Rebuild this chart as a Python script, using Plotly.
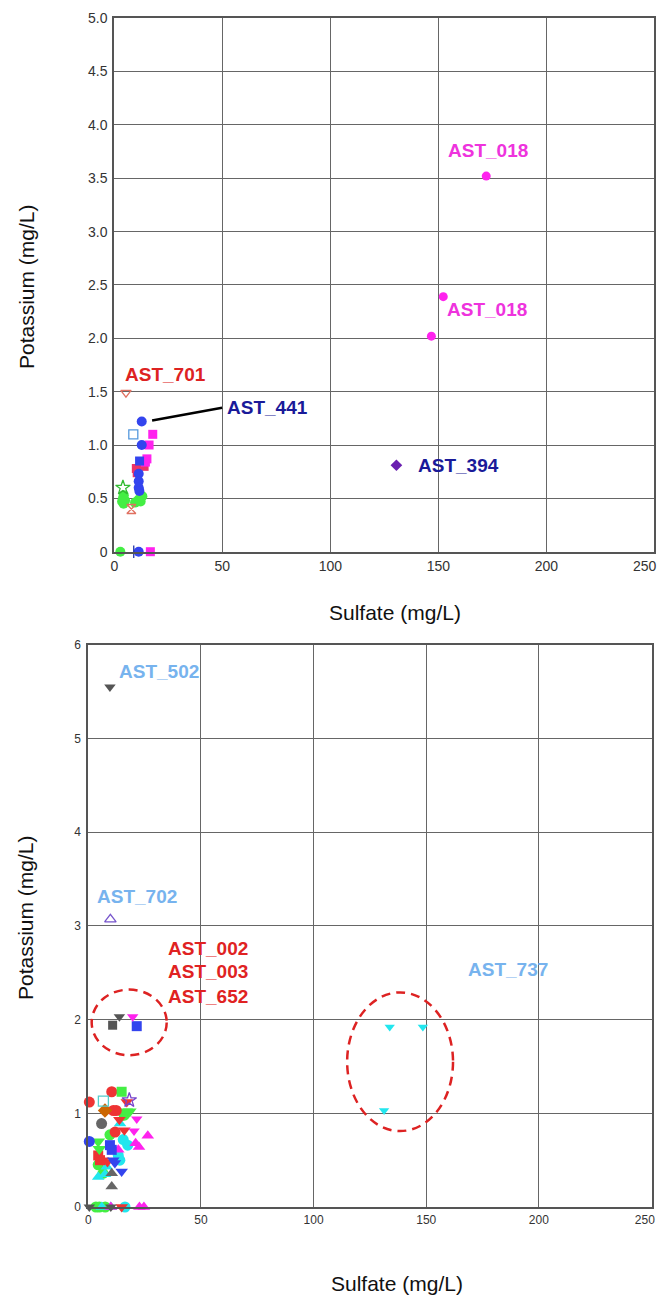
import plotly.graph_objects as go

# ---------------- data: top panel ----------------
TOP_X_TICKS = [0, 50, 100, 150, 200, 250]
TOP_X_TICKTEXT = ["0", "50", "100", "150", "200", "250"]
TOP_Y_TICKS = [0, 0.5, 1.0, 1.5, 2.0, 2.5, 3.0, 3.5, 4.0, 4.5, 5.0]
TOP_Y_TICKTEXT = ["0", "0.5", "1.0", "1.5", "2.0", "2.5", "3.0", "3.5", "4.0", "4.5", "5.0"]

t_mag_circ_x = [172.2, 152.3, 146.8]
t_mag_circ_y = [3.52, 2.39, 2.02]
t_pur_diam_x = [130.6]
t_pur_diam_y = [0.81]
t_sal_tridn_x = [5.4]
t_sal_tridn_y = [1.49]
t_sal_hour_x = [7.9]
t_sal_hour_y = [0.40]
t_grn_star_x = [4.0]
t_grn_star_y = [0.60]
t_lb_sq_x = [8.8]
t_lb_sq_y = [1.10]
t_grn_circ_x = [2.8, 4.3, 4.0, 4.4, 11.3, 13.0, 9.6, 12.2, 5.0, 3.6]
t_grn_circ_y = [0.0, 0.45, 0.50, 0.53, 0.49, 0.52, 0.46, 0.47, 0.48, 0.47]
t_red_sq_x = [10.2, 10.6, 13.8]
t_red_sq_y = [0.78, 0.74, 0.80]
t_mag_sq_x = [17.8, 16.1, 15.1, 14.4, 16.7]
t_mag_sq_y = [1.10, 1.00, 0.87, 0.84, 0.0]
t_blu_sq_x = [11.7]
t_blu_sq_y = [0.85]
t_blu_circ_x = [12.7, 12.7, 11.3, 11.3, 11.3, 11.6, 11.3]
t_blu_circ_y = [1.22, 1.00, 0.73, 0.66, 0.60, 0.57, 0.0]
t_navy_tick_x = [9.0]
t_navy_tick_y = [0.0]

TOP_LABELS = ["AST_018", "AST_018", "AST_701", "AST_441", "AST_394"]
TOP_LABEL_X = [173.0, 172.5, 23.5, 51.3, 139.5]
TOP_LABEL_Y = [3.76, 2.27, 1.66, 1.35, 0.81]

# ---------------- data: bottom panel ----------------
BOT_X_TICKS = [0, 50, 100, 150, 200, 250]
BOT_X_TICKTEXT = ["0", "50", "100", "150", "200", "250"]
BOT_Y_TICKS = [0, 1, 2, 3, 4, 5, 6]

b_gry_tridn_x = [9.6, 13.8, 0.45, 10.0]
b_gry_tridn_y = [5.55, 2.03, 0.0, 0.0]
b_pur_triup_open_x = [9.8]
b_pur_triup_open_y = [3.07]
b_gry_sq_x = [10.8]
b_gry_sq_y = [1.94]
b_mag_tridn_x = [19.7, 21.5, 20.3]
b_mag_tridn_y = [2.03, 0.94, 0.81]
b_blu_sq_x = [21.5, 9.6, 10.4]
b_blu_sq_y = [1.93, 0.66, 0.61]
b_cyan_tridn_x = [133.8, 148.5, 131.3]
b_cyan_tridn_y = [1.92, 1.92, 1.03]
b_red_circ_x = [0.45, 10.4, 11.1, 12.4, 11.9]
b_red_circ_y = [1.12, 1.23, 1.03, 1.03, 0.80]
b_grn_sq_x = [14.8]
b_grn_sq_y = [1.23]
b_cyan_sq_open_x = [6.7]
b_cyan_sq_open_y = [1.13]
b_red_tridn_x = [17.1, 16.0, 6.5, 8.5, 14.8, 13.8]
b_red_tridn_y = [1.12, 0.82, 0.50, 0.48, 0.0, 0.93]
b_pur_star_x = [18.2]
b_pur_star_y = [1.14]
b_org_diam_x = [7.4]
b_org_diam_y = [1.03]
b_grn_tridn_x = [16.8, 18.4, 4.4, 4.9, 15.4]
b_grn_tridn_y = [1.02, 1.02, 0.70, 0.62, 0.98]
b_grn_circ_x = [16.0, 9.6, 4.4, 6.5, 3.4, 4.9, 7.5]
b_grn_circ_y = [0.98, 0.77, 0.45, 0.36, 0.0, 0.0, 0.0]
b_gry_circ_x = [5.9]
b_gry_circ_y = [0.89]
b_cyan_triup_x = [14.1, 8.2, 4.4, 7.4, 10.0, 6.0]
b_cyan_triup_y = [0.89, 0.43, 0.32, 0.35, 0.0, 0.0]
b_mag_triup_x = [26.4, 21.0, 22.5, 13.3, 22.7, 24.7, 10.0]
b_mag_triup_y = [0.76, 0.68, 0.64, 0.61, 0.0, 0.0, 0.0]
b_blu_circ_x = [0.45]
b_blu_circ_y = [0.70]
b_cyan_circ_x = [15.5, 17.5, 13.3, 14.0, 16.3]
b_cyan_circ_y = [0.72, 0.66, 0.55, 0.50, 0.0]
b_red_sq_x = [4.4, 5.2]
b_red_sq_y = [0.55, 0.50]
b_blu_tridn_x = [11.1, 11.8, 14.8]
b_blu_tridn_y = [0.50, 0.47, 0.38]
b_gry_triup_x = [10.4, 10.4]
b_gry_triup_y = [0.36, 0.22]

BOT_LABELS = ["AST_502", "AST_702", "AST_002", "AST_003", "AST_652", "AST_737"]
BOT_LABEL_X = [12.7, 3.0, 34.5, 34.5, 34.5, 167.7]
BOT_LABEL_Y = [5.71, 3.31, 2.76, 2.51, 2.25, 2.53]

# ---------------- figure ----------------
W, H = 659, 1301
fig = go.Figure()


def add(x, y, symbol, color, size, panel, line_w=0):
    xa, ya = ("x", "y") if panel == 1 else ("x2", "y2")
    is_open = symbol.endswith("-open") or symbol.startswith("line")
    fig.add_trace(go.Scatter(
        x=x, y=y, mode="markers", xaxis=xa, yaxis=ya, cliponaxis=False,
        marker=dict(symbol=symbol, size=size, color=color,
                    line=dict(color=color, width=1.3 if is_open else line_w)),
        showlegend=False, hoverinfo="x+y"))


MAG = "#ff22ee"
BLUE = "#3344ee"
GREEN = "#44ee44"
RED = "#ee3333"
CYAN = "#22e6ee"
GRAY = "#555555"

# top panel
add(t_grn_circ_x, t_grn_circ_y, "circle", GREEN, 10, 1)
add(t_red_sq_x, t_red_sq_y, "square", "#ee3366", 9, 1)
add(t_mag_sq_x, t_mag_sq_y, "square", MAG, 9, 1)
add(t_blu_sq_x, t_blu_sq_y, "square", BLUE, 9, 1)
add(t_blu_circ_x, t_blu_circ_y, "circle", BLUE, 10, 1)
add(t_navy_tick_x, t_navy_tick_y, "line-ns", "#2233aa", 9, 1)
add(t_mag_circ_x, t_mag_circ_y, "circle", MAG, 9, 1)
add(t_pur_diam_x, t_pur_diam_y, "diamond", "#6a1fb0", 9, 1)
add(t_sal_tridn_x, t_sal_tridn_y, "triangle-down-open", "#e07060", 9, 1)
add(t_sal_hour_x, t_sal_hour_y, "hourglass-open", "#e07060", 9, 1)
add(t_grn_star_x, t_grn_star_y, "star-open", "#33bb33", 11, 1)
add(t_lb_sq_x, t_lb_sq_y, "square-open", "#5599dd", 9, 1)

# bottom panel
add(b_grn_circ_x, b_grn_circ_y, "circle", GREEN, 11, 2)
add(b_cyan_triup_x, b_cyan_triup_y, "triangle-up", CYAN, 11, 2)
add(b_cyan_circ_x, b_cyan_circ_y, "circle", CYAN, 11, 2)
add(b_mag_triup_x, b_mag_triup_y, "triangle-up", MAG, 11, 2)
add(b_red_sq_x, b_red_sq_y, "square", RED, 10, 2)
add(b_grn_tridn_x, b_grn_tridn_y, "triangle-down", GREEN, 12, 2)
add(b_red_circ_x, b_red_circ_y, "circle", RED, 11, 2)
add(b_grn_sq_x, b_grn_sq_y, "square", GREEN, 10, 2)
add(b_red_tridn_x, b_red_tridn_y, "triangle-down", RED, 11, 2)
add(b_org_diam_x, b_org_diam_y, "diamond", "#cc6600", 11, 2)
add(b_gry_circ_x, b_gry_circ_y, "circle", "#666666", 11, 2)
add(b_blu_circ_x, b_blu_circ_y, "circle", BLUE, 11, 2)
add(b_blu_sq_x, b_blu_sq_y, "square", BLUE, 10, 2)
add(b_blu_tridn_x, b_blu_tridn_y, "triangle-down", BLUE, 11, 2)
add(b_gry_triup_x, b_gry_triup_y, "triangle-up", "#666666", 11, 2)
add(b_mag_tridn_x, b_mag_tridn_y, "triangle-down", MAG, 10, 2)
add(b_gry_tridn_x, b_gry_tridn_y, "triangle-down", GRAY, 10, 2)
add(b_gry_sq_x, b_gry_sq_y, "square", GRAY, 9, 2)
add(b_cyan_tridn_x, b_cyan_tridn_y, "triangle-down", CYAN, 9, 2)
add(b_cyan_sq_open_x, b_cyan_sq_open_y, "square-open", "#55cccc", 10, 2)
add(b_pur_star_x, b_pur_star_y, "star-open", "#7744cc", 11, 2)
add(b_pur_triup_open_x, b_pur_triup_open_y, "triangle-up-open", "#7755cc", 10, 2)

# labels
LABEL_FONT = "Liberation Sans, Arial"
TOP_LABEL_COLORS = ["#ee33dd", "#ee33dd", "#dd2222", "#1a1a99", "#1a1a99"]
for t, x, y, c in zip(TOP_LABELS, TOP_LABEL_X, TOP_LABEL_Y, TOP_LABEL_COLORS):
    xanchor = "left" if t in ("AST_441", "AST_394") else "center"
    fig.add_annotation(x=x, y=y, xref="x", yref="y", text="<b>%s</b>" % t, showarrow=False,
                       xanchor=xanchor, yanchor="middle",
                       font=dict(family=LABEL_FONT, size=19, color=c))

BOT_LABEL_COLORS = ["#77b3ee", "#77b3ee", "#e02222", "#e02222", "#e02222", "#77b3ee"]
for t, x, y, c in zip(BOT_LABELS, BOT_LABEL_X, BOT_LABEL_Y, BOT_LABEL_COLORS):
    fig.add_annotation(x=x, y=y, xref="x2", yref="y2", text="<b>%s</b>" % t, showarrow=False,
                       xanchor="left", yanchor="middle",
                       font=dict(family=LABEL_FONT, size=19, color=c))

# axis titles
TITLE_FONT = dict(family="Liberation Sans, Arial", size=21, color="#111111")
fig.add_annotation(x=395 / W, y=1 - 612 / H, xref="paper", yref="paper", text="Sulfate (mg/L)",
                   showarrow=False, font=TITLE_FONT, xanchor="center", yanchor="middle")
fig.add_annotation(x=397 / W, y=1 - 1283 / H, xref="paper", yref="paper", text="Sulfate (mg/L)",
                   showarrow=False, font=TITLE_FONT, xanchor="center", yanchor="middle")
fig.add_annotation(x=27 / W, y=1 - 287 / H, xref="paper", yref="paper", text="Potassium (mg/L)",
                   showarrow=False, font=TITLE_FONT, textangle=-90, xanchor="center", yanchor="middle")
fig.add_annotation(x=25 / W, y=1 - 918 / H, xref="paper", yref="paper", text="Potassium (mg/L)",
                   showarrow=False, font=TITLE_FONT, textangle=-90, xanchor="center", yanchor="middle")

# leader line and dashed ellipses
fig.add_shape(type="line", xref="x", yref="y", x0=17.5, y0=1.23, x1=49.9, y1=1.35,
              line=dict(color="black", width=2.5))
DASH = "9px,6px"
fig.add_shape(type="circle", xref="x2", yref="y2", x0=1.5, x1=34.8, y0=1.62, y1=2.32,
              line=dict(color="#dd2222", width=2.5, dash=DASH))
fig.add_shape(type="circle", xref="x2", yref="y2", x0=114.9, x1=161.9, y0=0.81, y1=2.29,
              line=dict(color="#dd2222", width=2.5, dash=DASH))

# keep the last x tick label inside the page: pad it on the right so it sits left of its tick
top_x_text = TOP_X_TICKTEXT[:-1] + [TOP_X_TICKTEXT[-1] + "&nbsp;" * 5]
bot_x_text = BOT_X_TICKTEXT[:-1] + [BOT_X_TICKTEXT[-1] + "&nbsp;" * 4]

TICK_FAMILY = "Liberation Sans, Arial"
AX = dict(showgrid=True, gridcolor="#666666", gridwidth=1, showline=True, mirror=True,
          linecolor="#555555", linewidth=2, zeroline=False, ticks="", automargin=False,
          ticklabeloverflow="allow",
          tickfont=dict(family=TICK_FAMILY, size=14, color="#333333"))
SMALL = dict(family=TICK_FAMILY, size=12, color="#333333")

fig.update_layout(
    width=W, height=H, margin=dict(l=0, r=0, t=0, b=0, autoexpand=False),
    plot_bgcolor="white", paper_bgcolor="white", showlegend=False,
    xaxis=dict(AX, domain=[114.3 / W, 654.3 / W], range=[0, 250], tickvals=TOP_X_TICKS,
               ticktext=top_x_text, anchor="y", ticklabelstandoff=0),
    yaxis=dict(AX, domain=[1 - 551.7 / H, 1 - 18.2 / H], range=[0, 5], tickvals=TOP_Y_TICKS,
               ticktext=TOP_Y_TICKTEXT, anchor="x", ticklabelstandoff=2),
    xaxis2=dict(AX, domain=[88.3 / W, 651.5 / W], range=[0, 250], tickvals=BOT_X_TICKS,
                ticktext=bot_x_text, anchor="y2", ticklabelstandoff=1, tickfont=SMALL),
    yaxis2=dict(AX, domain=[1 - 1207 / H, 1 - 644.8 / H], range=[0, 6], tickvals=BOT_Y_TICKS,
                anchor="x2", ticklabelstandoff=3, tickfont=SMALL),
)

fig.write_html("out.html")
